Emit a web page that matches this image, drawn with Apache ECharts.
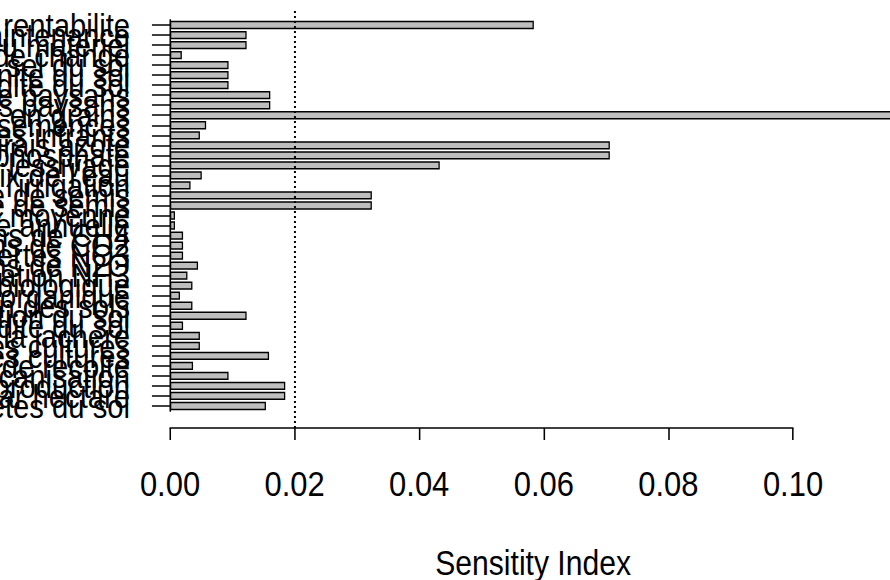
<!DOCTYPE html>
<html>
<head>
<meta charset="utf-8">
<script src="https://cdn.jsdelivr.net/npm/echarts@6/dist/echarts.min.js"></script>
<style>
  html, body { margin: 0; padding: 0; background: #fff; overflow: hidden; width: 890px; height: 580px; }
  /* the original figure's text is horizontally condensed: draw wider, then squeeze */
  #chart { width: 1035px; height: 580px; transform: scaleX(0.8599); transform-origin: 0 0; }
</style>
</head>
<body>
<div id="chart"></div>
<script>
// Categories, listed top to bottom as they appear in the chart
const categories = [
  "rentabilite", "Cout de maintenance", "Prix du materiel", "Taux de change",
  "Teneur en sel du sol", "Salinite du sol", "Acidite du sol", "Nombre de paysans",
  "Revenus des paysans", "Rendement en grains", "Prix des semences", "Prix des intrants",
  "Dose d'engrais azote", "Dose d'engrais phosphate", "Pertes par lessivage", "Prix de l'eau",
  "Cout de l'irrigation", "Densite de semis", "Date de semis", "Temperature moyenne",
  "Pluviometrie annuelle", "Emissions de CH4", "Emissions de CO2", "Pertes NO3",
  "Emissions de N2O", "Volatilisation NH3", "Fixation biologique", "Matiere organique",
  "Erosion des sols", "Compaction du sol", "Humidite du sol", "Duree de la jachere",
  "Rotation des cultures", "Rendement des cultures", "Residus de recolte", "Taux de mecanisation",
  "Cout de production", "Marge brute par hectare", "Proprietes du sol"
];

// Sensitivity index values (same order)
const sensitivity = [
  0.0584, 0.0123, 0.0123, 0.0019, 0.0094, 0.0094, 0.0094, 0.0161,
  0.0161, 0.1250, 0.0058, 0.0048, 0.0706, 0.0706, 0.0433, 0.0051,
  0.0033, 0.0324, 0.0324, 0.0008, 0.0008, 0.0021, 0.0021, 0.0021,
  0.0045, 0.0028, 0.0036, 0.0016, 0.0036, 0.0123, 0.0021, 0.0048,
  0.0048, 0.0159, 0.0037, 0.0094, 0.0185, 0.0185, 0.0154
];

// X-axis ticks
const xMin = 0, xMax = 0.10, xStep = 0.02;
// Reference threshold line
const threshold = 0.02;
const xTitle = "Sensitity Index";

const font = "'Liberation Sans', Arial, sans-serif";
const chart = echarts.init(document.getElementById('chart'), null, { renderer: 'svg', width: 1035, height: 580 });

chart.setOption({
  backgroundColor: '#ffffff',
  animation: false,
  grid: [
    { left: 197.7, width: 724.5, top: 20, height: 391, containLabel: false, outerBoundsMode: 'none' },
    { left: 197.7, width: 724.5, top: 8, height: 420, containLabel: false, outerBoundsMode: 'none' }
  ],
  xAxis: [
    {
      gridIndex: 0, type: 'value', min: xMin, max: xMax, interval: xStep,
      offset: 17,
      axisLine: { show: true, lineStyle: { color: '#000', width: 1.5 } },
      axisTick: { show: true, length: 12, lineStyle: { color: '#000', width: 1.8 } },
      splitLine: { show: false },
      axisLabel: {
        color: '#000', fontFamily: font, fontSize: 36, margin: 38,
        formatter: v => v.toFixed(2)
      },
      name: xTitle, nameLocation: 'middle', nameGap: 117,
      nameTextStyle: { color: '#000', fontFamily: font, fontSize: 35, padding: [0, 0, 0, 120] }
    },
    { gridIndex: 1, type: 'value', min: xMin, max: xMax, show: false }
  ],
  yAxis: [
    {
      gridIndex: 0, type: 'category', data: categories, inverse: true,
      axisLine: { show: true, lineStyle: { color: '#000', width: 1.8 } },
      axisTick: { show: true, alignWithLabel: true, length: 21, lineStyle: { color: '#000', width: 1.5 } },
      axisLabel: { interval: 0, color: '#000', fontFamily: font, fontSize: 34, margin: 46.5 },
      splitLine: { show: false }
    },
    { gridIndex: 1, type: 'value', min: 0, max: 1, show: false }
  ],
  series: [
    {
      type: 'bar', xAxisIndex: 0, yAxisIndex: 0, data: sensitivity,
      barCategoryGap: '17%', clip: false,
      itemStyle: { color: '#bebebe', borderColor: '#000', borderWidth: 1.5 }
    },
    {
      type: 'scatter', xAxisIndex: 1, yAxisIndex: 1, data: [],
      markLine: {
        silent: true, symbol: 'none', animation: false,
        label: { show: false },
        lineStyle: { color: '#000', type: [2, 3], width: 2.3 },
        data: [{ xAxis: threshold }]
      }
    }
  ]
});
</script>
</body>
</html>
